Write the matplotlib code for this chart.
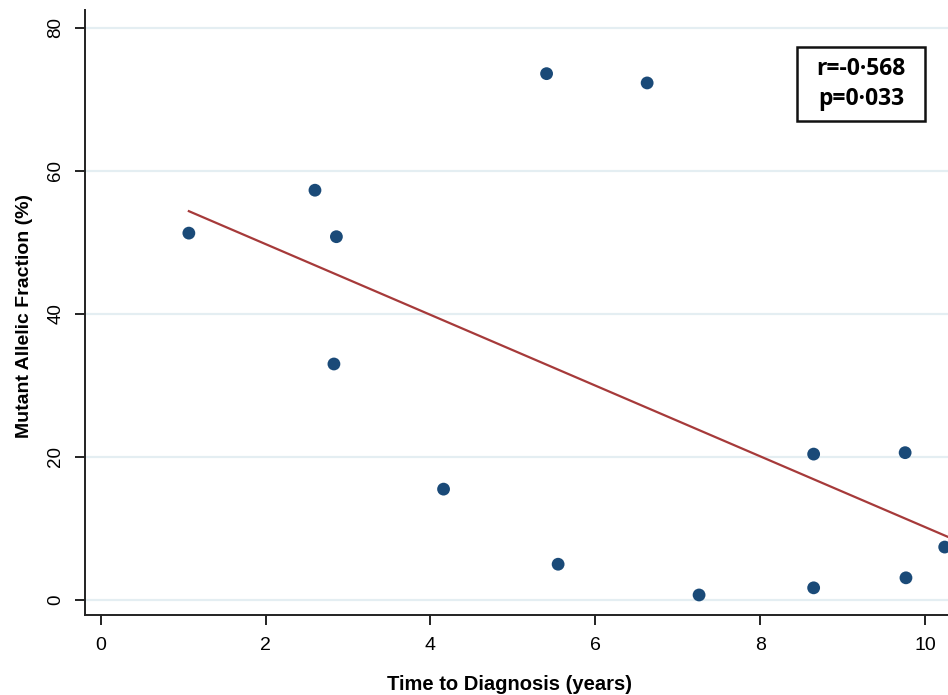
import numpy as np
import matplotlib
matplotlib.use('Agg')
import matplotlib.pyplot as plt
from matplotlib.patches import Rectangle

# 诊断时间 (年) 与 突变等位基因比例 (%)
years = [1.07, 2.60, 2.86, 2.83, 4.16, 5.41, 5.55, 6.63, 7.26, 8.65, 8.65, 9.76, 9.77, 10.24]
fraction = [51.3, 57.3, 50.8, 33.0, 15.5, 73.6, 5.0, 72.3, 0.7, 20.4, 1.7, 20.6, 3.1, 7.4]
x_ticks = [0, 2, 4, 6, 8, 10]
y_ticks = [0, 20, 40, 60, 80]
stats_text = 'r=-0·568\np=0·033'

narrow = ['Liberation Sans Narrow', 'Liberation Sans', 'DejaVu Sans']

fig = plt.figure(figsize=(9.48, 6.95), dpi=100)
ax = fig.add_axes([85 / 948, 1 - 615 / 695, 1 - 85 / 948, (615 - 10) / 695])

# 网格线
for yt in y_ticks:
    ax.axhline(yt, color='#e4eef2', lw=1.6, zorder=0)

ax.scatter(years, fraction, s=85, color='#1a4a78', zorder=3, edgecolors='none', clip_on=False)

# 线性拟合
k, b = np.polyfit(years, fraction, 1)
xs = np.array([min(years), 10.3])
ax.plot(xs, k * xs + b, color='#a63a3a', lw=1.6, zorder=2)

ax.set_xlim(-0.19, 10.28)
ax.set_ylim(-2.1, 82.5)
ax.set_xticks(x_ticks)
ax.set_yticks(y_ticks)
ax.spines['top'].set_visible(False)
ax.spines['right'].set_visible(False)
for s in ['left', 'bottom']:
    ax.spines[s].set_linewidth(1.4)
    ax.spines[s].set_color('#222222')
ax.tick_params(direction='out', length=7, width=1.4, color='#222222')
ax.tick_params(axis='x', pad=9, labelsize=14)
ax.tick_params(axis='y', pad=8, labelsize=13.5)
for lab in ax.get_xticklabels() + ax.get_yticklabels():
    lab.set_family(narrow)
for lab in ax.get_yticklabels():
    lab.set_rotation(90)
    lab.set_va('center')

ax.set_xlabel('Time to Diagnosis (years)', fontsize=14.5, fontweight='bold', family=narrow, va='center')
ax.xaxis.set_label_coords(0.492, -0.115)
ax.set_ylabel('Mutant Allelic Fraction (%)', fontsize=14, fontweight='bold', family=narrow, va='center')
ax.yaxis.set_label_coords(-0.0705, 0.494)

# 统计结果框
ax.add_patch(Rectangle((0.825, 0.8165), 0.148, 0.1225, transform=ax.transAxes,
                       fc='white', ec='#111111', lw=1.8, zorder=4, clip_on=False))
ax.text(0.899, 0.878, stats_text, transform=ax.transAxes, ha='center', va='center',
        fontsize=16.5, fontweight='bold', family=['Open Sans', 'DejaVu Sans'], linespacing=1.35,
        zorder=5)

plt.savefig('out.png', dpi=100)
